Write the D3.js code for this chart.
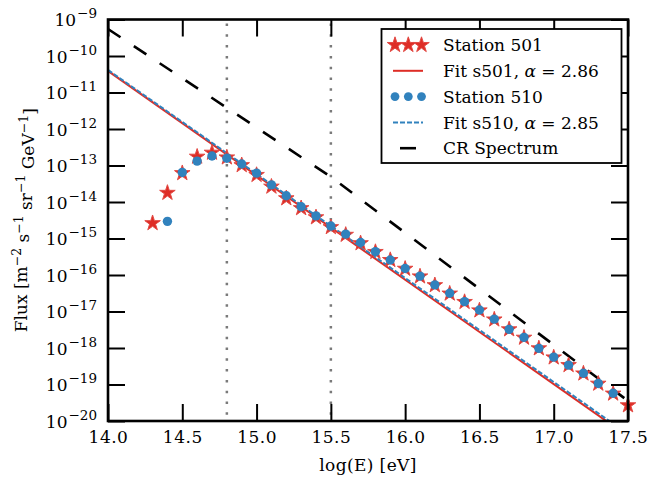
<!DOCTYPE html>
<html><head><meta charset="utf-8">
<script src="https://cdn.jsdelivr.net/npm/d3@7"></script>
<style>
html,body{margin:0;padding:0;background:#fff;}
svg text{font-family:"DejaVu Serif","Liberation Serif",serif;fill:#000;}
</style>
</head><body>
<script>
// ---- data ----
const energy501 = [14.3,14.4,14.5,14.6,14.7,14.8,14.9,15.0,15.1,15.2,15.3,15.4,15.5,15.6,15.7,15.8,15.9,16.0,16.1,16.2,16.3,16.4,16.5,16.6,16.7,16.8,16.9,17.0,17.1,17.2,17.3,17.4,17.5];
const flux501 = [2.63e-15,1.78e-14,6.17e-14,1.74e-13,2.24e-13,1.66e-13,1.02e-13,5.50e-14,2.63e-14,1.26e-14,6.76e-15,3.80e-15,2.04e-15,1.26e-15,7.41e-16,4.27e-16,2.57e-16,1.48e-16,9.12e-17,5.25e-17,3.09e-17,1.82e-17,1.07e-17,6.03e-18,3.24e-18,1.91e-18,9.77e-19,5.50e-19,3.39e-19,2.00e-19,1.05e-19,5.62e-20,2.69e-20];
const energy510 = [14.4,14.5,14.6,14.7,14.8,14.9,15.0,15.1,15.2,15.3,15.4,15.5,15.6,15.7,15.8,15.9,16.0,16.1,16.2,16.3,16.4,16.5,16.6,16.7,16.8,16.9,17.0,17.1,17.2,17.3,17.4];
const flux510 = [2.95e-15,6.46e-14,1.32e-13,1.82e-13,1.58e-13,1.10e-13,6.17e-14,2.95e-14,1.48e-14,7.41e-15,4.17e-15,2.19e-15,1.32e-15,7.76e-16,4.37e-16,2.57e-16,1.51e-16,9.33e-17,5.37e-17,3.16e-17,1.86e-17,1.10e-17,6.17e-18,3.24e-18,1.95e-18,9.77e-19,5.62e-19,3.39e-19,2.04e-19,1.07e-19,5.75e-20];
// power-law fits: flux = norm * 10^(-alpha*(logE-14))
const fitLogE = [14.0, 17.5];
const fit501 = {alpha: 2.86, norm: 3.90e-11};
const fit510 = {alpha: 2.85, norm: 4.15e-11};
// cosmic-ray spectrum (knee at 15.5)
const crLogE = [14.0, 15.5, 17.5];
const crFlux = [5.5e-10, 4.9e-14, 3.55e-20];
const vLines = [14.8, 15.5];
const xTicks = [14.0,14.5,15.0,15.5,16.0,16.5,17.0,17.5];
const yTicks = [1e-20,1e-19,1e-18,1e-17,1e-16,1e-15,1e-14,1e-13,1e-12,1e-11,1e-10,1e-9];
const legendLabels = ["Station 501","Fit s501, ","Station 510","Fit s510, ","CR Spectrum"];

const RED = "#de2d26", BLUE = "#3182bd";
const W = 649, H = 483;
const L = 108, R = 628, T = 19.5, B = 421;

const svg = d3.select("body").append("svg").attr("width", W).attr("height", H);
const x = d3.scaleLinear().domain([14, 17.5]).range([L, R]);
const y = d3.scaleLog().domain([1e-20, 1e-9]).range([B, T]);

svg.append("defs").append("clipPath").attr("id","clip")
  .append("rect").attr("x",L).attr("y",T).attr("width",R-L).attr("height",B-T);
const plot = svg.append("g").attr("clip-path","url(#clip)");

// dotted vertical lines
plot.selectAll(".vl").data(vLines).join("line")
  .attr("x1", d=>x(d)).attr("x2", d=>x(d)).attr("y1", T+4).attr("y2", B)
  .attr("stroke", "#7a7a7a").attr("stroke-width", 2.5).attr("stroke-dasharray", "2.5,8.3");

const line = d3.line().x(d=>x(d[0])).y(d=>y(d[1]));
const fitPts = f => fitLogE.map(e => [e, f.norm * Math.pow(10, -f.alpha*(e-14))]);

const star = d3.symbol().type(d3.symbolStar).size(75);
// station 501 stars
svg.append("g").selectAll("path").data(energy501.map((e,i)=>[e,flux501[i]])).join("path")
  .attr("d", star).attr("transform", d=>`translate(${x(d[0])},${y(d[1])})`)
  .attr("fill", RED).attr("stroke", "#e34a44").attr("stroke-width", 1);
// fit 501
plot.append("path").datum(fitPts(fit501)).attr("d", line)
  .attr("fill","none").attr("stroke",RED).attr("stroke-width",2);
// station 510 circles
svg.append("g").selectAll("circle").data(energy510.map((e,i)=>[e,flux510[i]])).join("circle")
  .attr("cx", d=>x(d[0])).attr("cy", d=>y(d[1])).attr("r", 4.7).attr("fill", BLUE);
// fit 510
plot.append("path").datum(fitPts(fit510)).attr("d", line)
  .attr("fill","none").attr("stroke",BLUE).attr("stroke-width",2).attr("stroke-dasharray","5,2");
// CR spectrum
plot.append("path").datum(crLogE.map((e,i)=>[e,crFlux[i]])).attr("d", line)
  .attr("fill","none").attr("stroke","#000").attr("stroke-width",2.6).attr("stroke-dasharray","15,16");

// axes
const TK = 17;
const fmtX = d3.format(".1f");
const gB = svg.append("g").attr("transform",`translate(0,${B})`)
  .call(d3.axisBottom(x).tickValues(xTicks).tickFormat(fmtX).tickSizeInner(-TK).tickSizeOuter(0).tickPadding(10));
const gT = svg.append("g").attr("transform",`translate(0,${T})`)
  .call(d3.axisTop(x).tickValues(xTicks).tickFormat("").tickSizeInner(-TK).tickSizeOuter(0));
const gL = svg.append("g").attr("transform",`translate(${L},0)`)
  .call(d3.axisLeft(y).tickValues(yTicks).tickSizeInner(-TK).tickSizeOuter(0).tickPadding(11));
const gR = svg.append("g").attr("transform",`translate(${R},0)`)
  .call(d3.axisRight(y).tickValues(yTicks).tickFormat("").tickSizeInner(-TK).tickSizeOuter(0));
[gB,gT,gL,gR].forEach(g=>{
  g.select(".domain").remove();
  g.selectAll(".tick line").attr("stroke","#000").attr("stroke-width",2);
  g.selectAll("text").attr("font-family", null).attr("font-size", null);
});
gB.selectAll("text").style("font-size","17px").style("letter-spacing","0.5px");
gL.selectAll(".tick text").each(function(d){
  const t = d3.select(this); t.text(null).style("font-size","17px").attr("dy","0.36em");
  t.append("tspan").text("10");
  t.append("tspan").attr("dx","1").attr("dy","-0.6em").style("font-size","13.5px").text("\u2212" + Math.round(-Math.log10(d)));
});
// frame
svg.append("rect").attr("x",L).attr("y",T).attr("width",R-L).attr("height",B-T)
  .attr("fill","none").attr("stroke","#000").attr("stroke-width",2.6);

// axis labels
svg.append("text").attr("x",(L+R)/2).attr("y",471).attr("text-anchor","middle")
  .style("font-size","17px").style("letter-spacing","0.4px").text("log(E) [eV]");
const yl = svg.append("text").attr("transform",`translate(27,${(T+B)/2}) rotate(-90)`)
  .attr("text-anchor","middle").style("font-size","17px");
yl.append("tspan").text("Flux [m");
const sup = (t, s) => { t.append("tspan").attr("dy","-0.5em").style("font-size","12.5px").text(s); };
const back = (t, s) => { t.append("tspan").attr("dy","0.5em").text(s); };
sup(yl,"\u22122"); back(yl," s"); sup(yl,"\u22121"); back(yl," sr"); sup(yl,"\u22121"); back(yl," GeV"); sup(yl,"\u22121"); back(yl,"]");

// legend
const lg = svg.append("g");
lg.append("rect").attr("x",381.5).attr("y",29).attr("width",240).attr("height",134)
  .attr("fill","#fff").attr("stroke","#000").attr("stroke-width",1.8);
const rowY = i => 45 + i*25.8;
const mx = [395, 408.3, 421.5];
mx.forEach(m => lg.append("path").attr("d", star).attr("transform",`translate(${m},${rowY(0)})`)
  .attr("fill",RED).attr("stroke","#e34a44").attr("stroke-width",1));
lg.append("line").attr("x1",393).attr("x2",423).attr("y1",rowY(1)).attr("y2",rowY(1)).attr("stroke",RED).attr("stroke-width",2);
mx.forEach(m => lg.append("circle").attr("cx",m).attr("cy",rowY(2)).attr("r",4.4).attr("fill",BLUE));
lg.append("line").attr("x1",393).attr("x2",423).attr("y1",rowY(3)).attr("y2",rowY(3)).attr("stroke",BLUE).attr("stroke-width",2).attr("stroke-dasharray","5,2");
lg.append("line").attr("x1",400).attr("x2",416).attr("y1",rowY(4)).attr("y2",rowY(4)).attr("stroke","#000").attr("stroke-width",2.6);
legendLabels.forEach((s,i)=>{
  const t = lg.append("text").attr("x",443).attr("y",rowY(i)).attr("dy","0.36em").style("font-size","17px").text(s);
  if (i===1 || i===3) {
    t.append("tspan").style("font-style","italic").text("\u03b1");
    t.append("tspan").text(" = " + (i===1 ? fit501.alpha : fit510.alpha).toFixed(2));
  }
});
</script>
</body></html>
